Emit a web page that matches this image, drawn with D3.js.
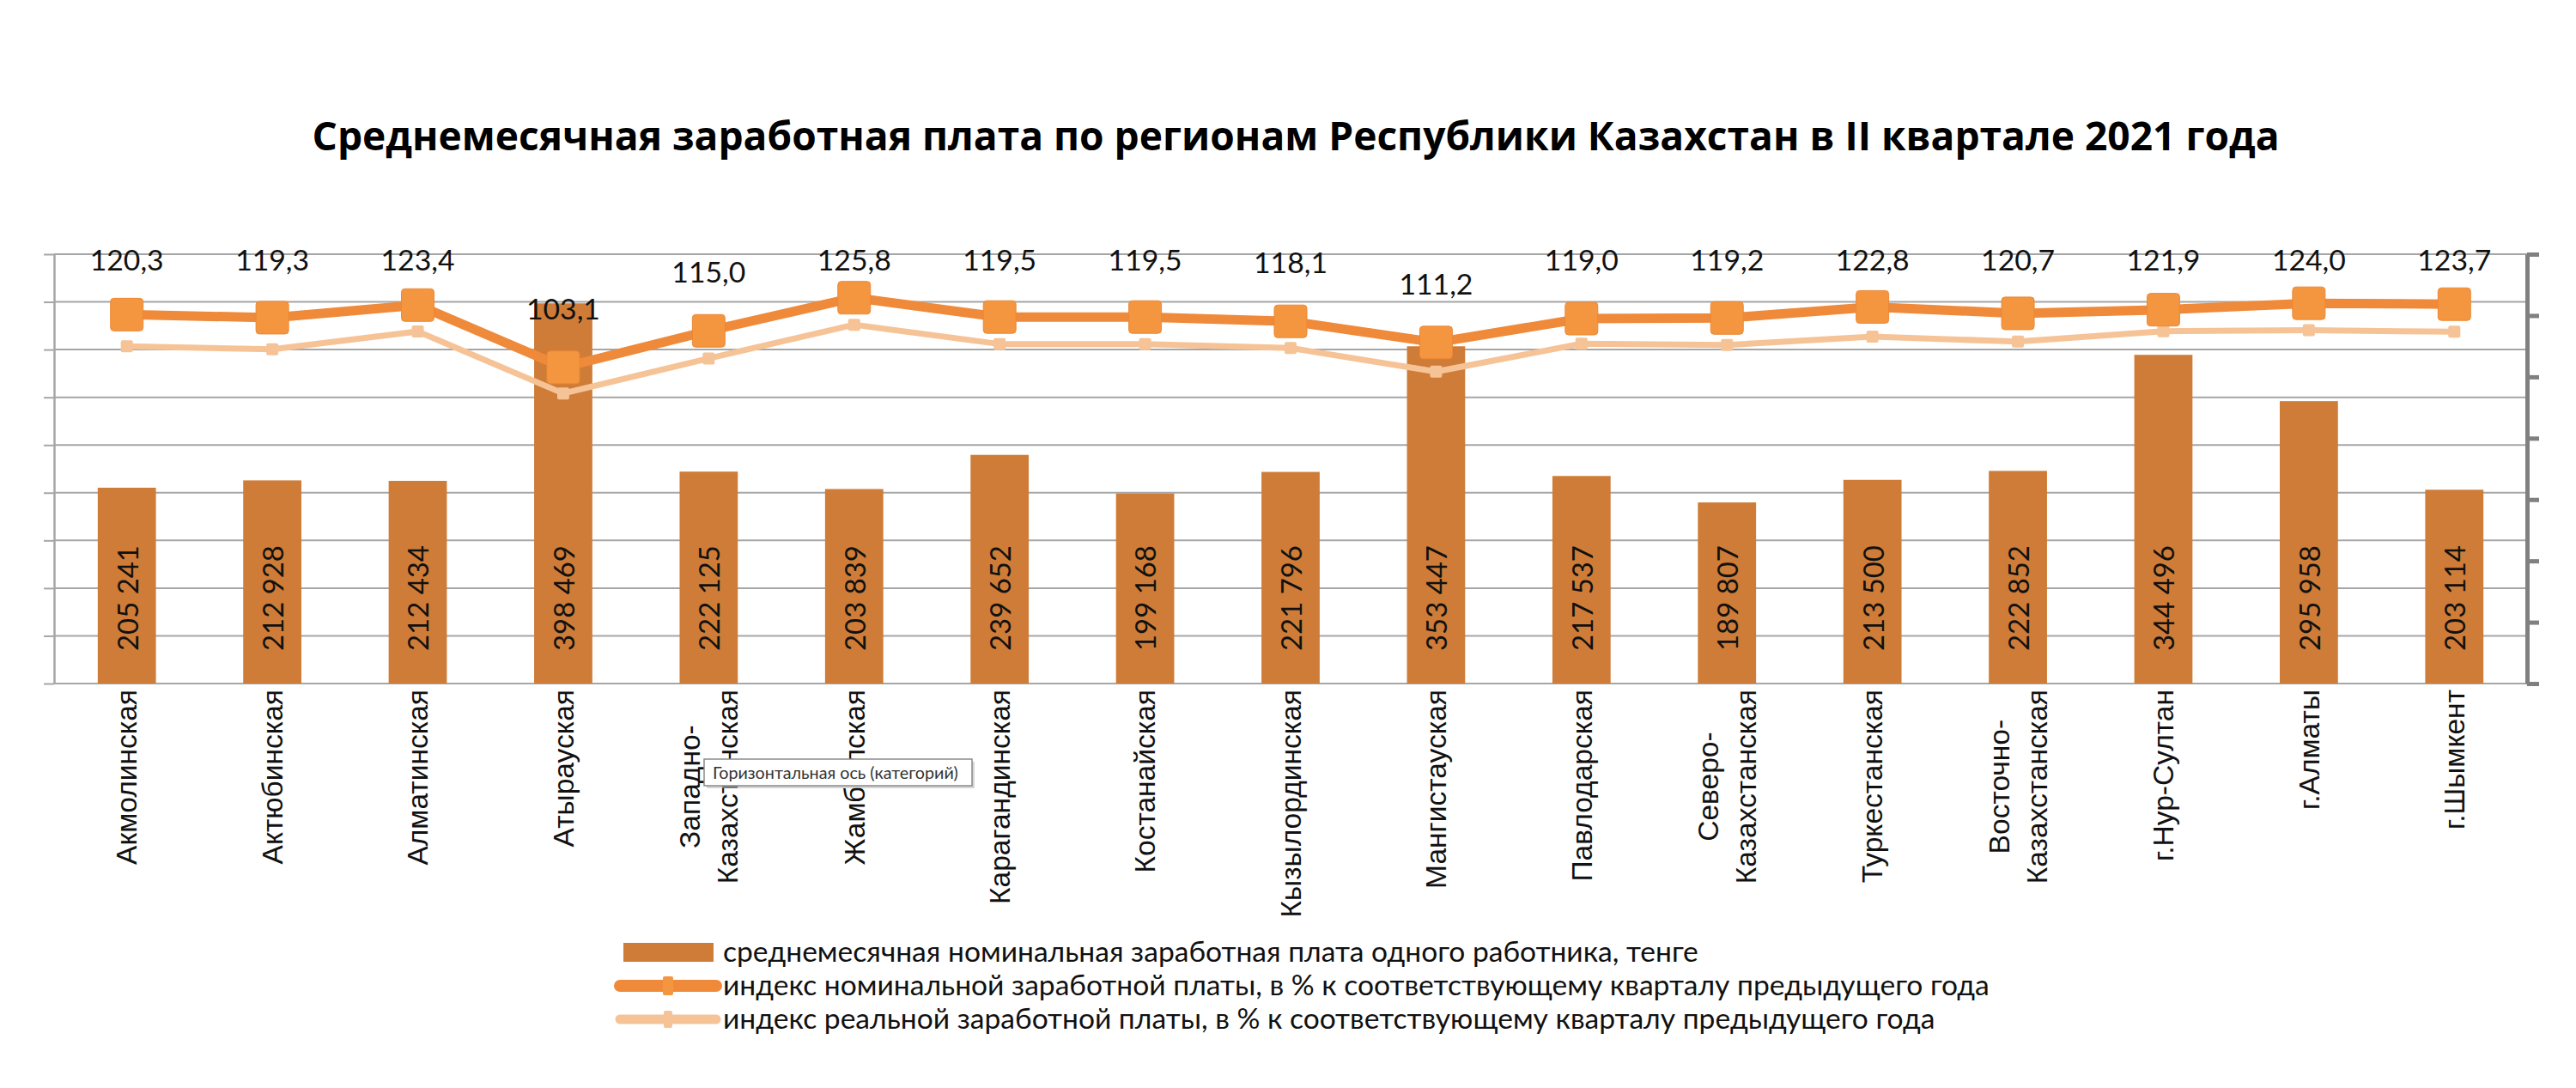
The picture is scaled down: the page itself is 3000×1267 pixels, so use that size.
<!DOCTYPE html>
<html><head><meta charset="utf-8">
<script src="https://cdn.jsdelivr.net/npm/d3@7"></script>
<style>body{margin:0;background:#fff} svg{display:block}</style>
</head><body>
<svg id="c" width="3000" height="1267"></svg>
<script>
const title = "Среднемесячная заработная плата по регионам Республики Казахстан в II квартале 2021 года";
const categories = ["Акмолинская","Актюбинская","Алматинская","Атырауская","Западно-\nКазахстанская","Жамбылская","Карагандинская","Костанайская","Кызылординская","Мангистауская","Павлодарская","Северо-\nКазахстанская","Туркестанская","Восточно-\nКазахстанская","г.Нур-Султан","г.Алматы","г.Шымкент"];
const wages = [205241,212928,212434,398469,222125,203839,239652,199168,221796,353447,217537,189807,213500,222852,344496,295958,203114];
const nominalIndex = [120.3,119.3,123.4,103.1,115.0,125.8,119.5,119.5,118.1,111.2,119.0,119.2,122.8,120.7,121.9,124.0,123.7];
const realIndex = [110.0,109.0,114.8,94.6,106.0,117.0,110.7,110.7,109.4,101.7,110.8,110.4,113.1,111.5,114.9,115.2,114.7];
const leftTicks = d3.range(0, 450001, 50000);
const rightTicks = d3.range(0, 141, 20);
const legendLabels = [
  "среднемесячная номинальная заработная плата одного работника, тенге",
  "индекс номинальной заработной платы, в % к соответствующему кварталу предыдущего года",
  "индекс реальной заработной платы, в % к соответствующему кварталу предыдущего года"
];
const tooltipText = "Горизонтальная ось (категорий)";

const C = {bar:"#CE7C37", nom:"#EF8A3A", nomMk:"#F4963F", real:"#F6C397", grid:"#A6A6A6", raxis:"#808080", text:"#111"};
const svg = d3.select("#c");
const X0=63, X1=2943, Y0=296, Y1=796;

const x = d3.scaleBand().domain(categories).range([X0,X1]).paddingInner(0.6).paddingOuter(0.3);
const yL = d3.scaleLinear().domain([0,450000]).range([Y1,Y0]);
const yR = d3.scaleLinear().domain([0,140]).range([Y1,Y0]);
const cx = c => x(c) + x.bandwidth()/2;

function fit(sel, target){
  const n = sel.node(); const w = n.getComputedTextLength();
  const fs = parseFloat(sel.attr("font-size")); const nf = fs*target/w;
  return nf;
}

// title
const t = svg.append("text").attr("x",1509).attr("y",175).attr("text-anchor","middle")
  .attr("font-family","Open Sans").attr("font-weight","bold").attr("font-size",46).attr("fill","#000").text(title);
t.attr("font-size", fit(t, 2292));

// gridlines + left axis
const gL = svg.append("g").attr("transform",`translate(${X0},0)`)
  .call(d3.axisLeft(yL).tickValues(leftTicks).tickSize(12).tickSizeOuter(0).tickFormat(""));
gL.select(".domain").attr("stroke",C.grid).attr("stroke-width",2.5);
gL.selectAll(".tick line").attr("stroke",C.grid).attr("stroke-width",2);
svg.append("g").selectAll("line").data(leftTicks).join("line")
  .attr("x1",X0).attr("x2",X1).attr("y1",d=>yL(d)).attr("y2",d=>yL(d))
  .attr("stroke",C.grid).attr("stroke-width",2);

// right axis
const gR = svg.append("g").attr("transform",`translate(${X1},0)`)
  .call(d3.axisRight(yR).tickValues(rightTicks).tickSize(14).tickSizeOuter(0).tickFormat(""));
gR.select(".domain").attr("stroke",C.raxis).attr("stroke-width",5);
gR.selectAll(".tick line").attr("stroke",C.raxis).attr("stroke-width",5);

// bars
svg.append("g").selectAll("rect").data(categories).join("rect")
  .attr("x",d=>x(d)).attr("width",x.bandwidth())
  .attr("y",(d,i)=>yL(wages[i])).attr("height",(d,i)=>Y1-yL(wages[i]))
  .attr("fill",C.bar);

// bar labels
const fmtW = v => d3.format(",")(v).replace(/,/g," ");
const bl = svg.append("g").selectAll("text").data(categories).join("text")
  .attr("transform",d=>`translate(${cx(d)+1},758) rotate(-90)`)
  .attr("dy","0.36em").attr("text-anchor","start")
  .attr("font-family","Lato").attr("font-size",34).attr("fill",C.text)
  .text((d,i)=>fmtW(wages[i]));
const bfs = fit(d3.select(bl.nodes()[0]),123); bl.attr("font-size",bfs);

// lines
const line = d3.line().x(d=>cx(d[0])).y(d=>yR(d[1]));
svg.append("path").datum(categories.map((c,i)=>[c,realIndex[i]])).attr("d",line)
  .attr("fill","none").attr("stroke",C.real).attr("stroke-width",7).attr("stroke-linejoin","round");
svg.append("g").selectAll("rect").data(categories).join("rect")
  .attr("x",d=>cx(d)-7).attr("y",(d,i)=>yR(realIndex[i])-7).attr("width",14).attr("height",14).attr("rx",2)
  .attr("fill",C.real);
svg.append("path").datum(categories.map((c,i)=>[c,nominalIndex[i]])).attr("d",line)
  .attr("fill","none").attr("stroke",C.nom).attr("stroke-width",11).attr("stroke-linejoin","round");
svg.append("g").selectAll("rect").data(categories).join("rect")
  .attr("x",d=>cx(d)-19).attr("y",(d,i)=>yR(nominalIndex[i])-19).attr("width",38).attr("height",38).attr("rx",4)
  .attr("fill",C.nomMk).attr("stroke","#EC8836").attr("stroke-width",1);

// top labels
const fmtI = v => v.toFixed(1).replace(".",",");
const tl = svg.append("g").selectAll("text").data(categories).join("text")
  .attr("x",d=>cx(d)).attr("y",(d,i)=>Math.max(315, yR(nominalIndex[i])-56))
  .attr("text-anchor","middle").attr("font-family","Lato").attr("font-size",34).attr("fill",C.text)
  .text((d,i)=>fmtI(nominalIndex[i]));
const tfs = fit(d3.select(tl.nodes()[0]),86); tl.attr("font-size",tfs);

// x labels
const xg = svg.append("g");
const probe = xg.append("text").attr("font-family","Liberation Sans").attr("font-size",35).text(categories[0]);
const xfs = fit(probe,204); probe.remove();
categories.forEach(c=>{
  const lines = c.split("\n");
  const tx = xg.append("text").attr("transform",`translate(${cx(c)},803) rotate(-90)`)
    .attr("text-anchor","middle").attr("font-family","Liberation Sans").attr("font-size",xfs).attr("fill",C.text);
  const ts = lines.map((l,i)=>tx.append("tspan").attr("y",(i-(lines.length-1)/2)*44).attr("dy","0.35em").text(l));
  const L = d3.max(ts, s=>s.node().getComputedTextLength());
  ts.forEach(s=>s.attr("x",-L/2));
});

// tooltip
const tip = svg.append("g");
tip.append("rect").attr("x",823).attr("y",887).attr("width",312).attr("height",31).attr("fill","#bdbdbd").attr("opacity",0.6);
tip.append("rect").attr("x",820).attr("y",884).attr("width",312).attr("height",31).attr("fill","#fff").attr("stroke","#8a8a8a").attr("stroke-width",1.5);
const tt = tip.append("text").attr("x",830).attr("y",900).attr("dy","0.35em").attr("font-family","Lato").attr("font-size",20).attr("fill","#333").text(tooltipText);
tt.attr("font-size", fit(tt,286));

// legend
const lg = svg.append("g");
const rows = [1109,1148,1187];
lg.append("rect").attr("x",726).attr("y",rows[0]-11).attr("width",105).attr("height",22).attr("fill",C.bar);
lg.append("line").attr("x1",722).attr("x2",834).attr("y1",rows[1]).attr("y2",rows[1]).attr("stroke",C.nom).attr("stroke-width",14).attr("stroke-linecap","round");
lg.append("rect").attr("x",772).attr("y",rows[1]-11).attr("width",12).attr("height",22).attr("rx",2).attr("fill",C.nomMk);
lg.append("line").attr("x1",722).attr("x2",834).attr("y1",rows[2]).attr("y2",rows[2]).attr("stroke",C.real).attr("stroke-width",11).attr("stroke-linecap","round");
lg.append("rect").attr("x",773).attr("y",rows[2]-10).attr("width",10).attr("height",20).attr("rx",2).attr("fill",C.real);
const lt = lg.selectAll("text.l").data(legendLabels).join("text").attr("class","l")
  .attr("x",842).attr("y",(d,i)=>rows[i]).attr("dy","0.32em")
  .attr("font-family","Lato").attr("font-size",32).attr("fill",C.text).text(d=>d);
const lfs = fit(d3.select(lt.nodes()[0]),1136); lt.attr("font-size",lfs);
</script>
</body></html>
